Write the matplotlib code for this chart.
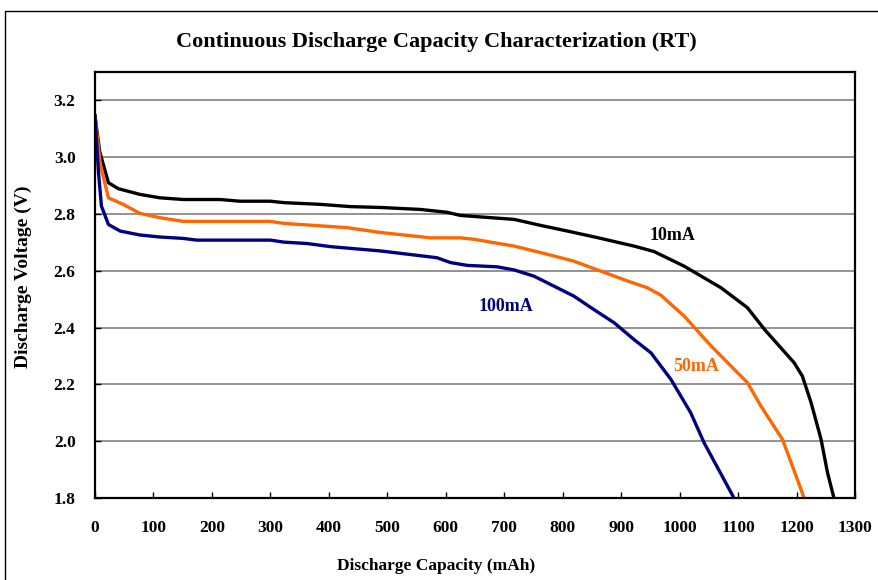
"""Continuous discharge capacity characterization (RT) - three discharge currents."""

import matplotlib
matplotlib.use("Agg")
import matplotlib.pyplot as plt
from matplotlib.patches import Rectangle

# capacity (mAh) / voltage (V)
cap_10ma = [0, 8, 23, 40, 77, 111, 151, 214, 248, 300, 323, 385, 437, 488, 557,
            602, 625, 717, 762, 808, 859, 922, 956, 1008, 1071, 1116, 1145, 1196,
            1210, 1225, 1242, 1253, 1264]
v_10ma = [3.145, 3.02, 2.910, 2.889, 2.869, 2.857, 2.851, 2.851, 2.845, 2.845, 2.840,
          2.834, 2.826, 2.823, 2.816, 2.806, 2.795, 2.781, 2.760, 2.740, 2.717, 2.687,
          2.668, 2.616, 2.540, 2.470, 2.394, 2.276, 2.229, 2.135, 2.006, 1.889, 1.80]

cap_50ma = [0, 9, 23, 48, 77, 111, 151, 300, 323, 351, 431, 488, 574, 625, 648, 717,
            774, 819, 865, 911, 945, 968, 1008, 1054, 1116, 1139, 1176, 1193, 1213]
v_50ma = [3.145, 2.975, 2.857, 2.834, 2.802, 2.787, 2.774, 2.774, 2.767, 2.763, 2.752,
          2.735, 2.716, 2.716, 2.711, 2.687, 2.658, 2.634, 2.599, 2.564, 2.540, 2.514,
          2.440, 2.335, 2.206, 2.124, 2.006, 1.912, 1.80]

cap_100ma = [0, 6, 11, 23, 43, 77, 111, 151, 174, 300, 323, 363, 403, 488, 585, 608,
             637, 688, 717, 751, 819, 853, 888, 922, 951, 985, 1019, 1042, 1093]
v_100ma = [3.145, 2.945, 2.828, 2.763, 2.740, 2.726, 2.719, 2.714, 2.708, 2.708, 2.701,
           2.696, 2.685, 2.670, 2.646, 2.629, 2.619, 2.614, 2.603, 2.581, 2.511, 2.464,
           2.417, 2.358, 2.311, 2.218, 2.100, 1.994, 1.80]

x_ticks = list(range(0, 1301, 100))
y_ticks = [1.8, 2.0, 2.2, 2.4, 2.6, 2.8, 3.0, 3.2]

plt.rcParams["font.family"] = ["Liberation Serif", "DejaVu Serif"]
plt.rcParams["font.weight"] = "bold"

W, H = 879, 580
fig = plt.figure(figsize=(W / 100, H / 100), dpi=100)
ax = fig.add_axes([95 / W, 1 - 498 / H, (855 - 95) / W, (498 - 72) / H])

# outer chart-area frame (runs off the right/bottom edge like the reference)
fig.patches.append(Rectangle((5 / W, -0.05), 1.2, 1 - 11 / H + 0.05,
                             transform=fig.transFigure, fill=False,
                             edgecolor="black", linewidth=1.0))

for y in y_ticks[1:]:
    ax.axhline(y, color="#808080", linewidth=1.2, zorder=1)

ax.plot(cap_10ma, v_10ma, color="black", linewidth=2.4, zorder=3)
ax.plot(cap_50ma, v_50ma, color="#FF6600", linewidth=2.4, zorder=3)
ax.plot(cap_100ma, v_100ma, color="#000080", linewidth=2.4, zorder=3)

ax.set_xlim(0, 1300)
ax.set_ylim(1.8, 3.3)
ax.set_xticks(x_ticks)
ax.set_yticks(y_ticks)
ax.set_yticklabels([f"{v:.1f}" for v in y_ticks])
ax.tick_params(direction="in", length=4, width=1, labelsize=12.5)
ax.tick_params(axis="x", pad=16)
ax.tick_params(axis="y", pad=14)
for s in ax.spines.values():
    s.set_linewidth(1.6)
    s.set_zorder(4)

ax.text(988, 2.725, "10mA", fontsize=13, fontweight="bold", color="black",
        ha="center", va="center")
ax.text(702, 2.475, "100mA", fontsize=13, fontweight="bold", color="#000080",
        ha="center", va="center")
ax.text(1029, 2.263, "50mA", fontsize=13, fontweight="bold", color="#FF6600",
        ha="center", va="center")

fig.text(436 / W, 1 - 42 / H, "Continuous Discharge Capacity Characterization (RT)",
         fontsize=16, fontweight="bold", ha="center", va="center")
fig.text(436 / W, 1 - 566 / H, "Discharge Capacity (mAh)",
         fontsize=12.5, fontweight="bold", ha="center", va="center")
fig.text(23 / W, 1 - 277 / H, "Discharge Voltage (V)", rotation=90,
         fontsize=14, fontweight="bold", ha="center", va="center")

fig.savefig("out.png", dpi=100)
